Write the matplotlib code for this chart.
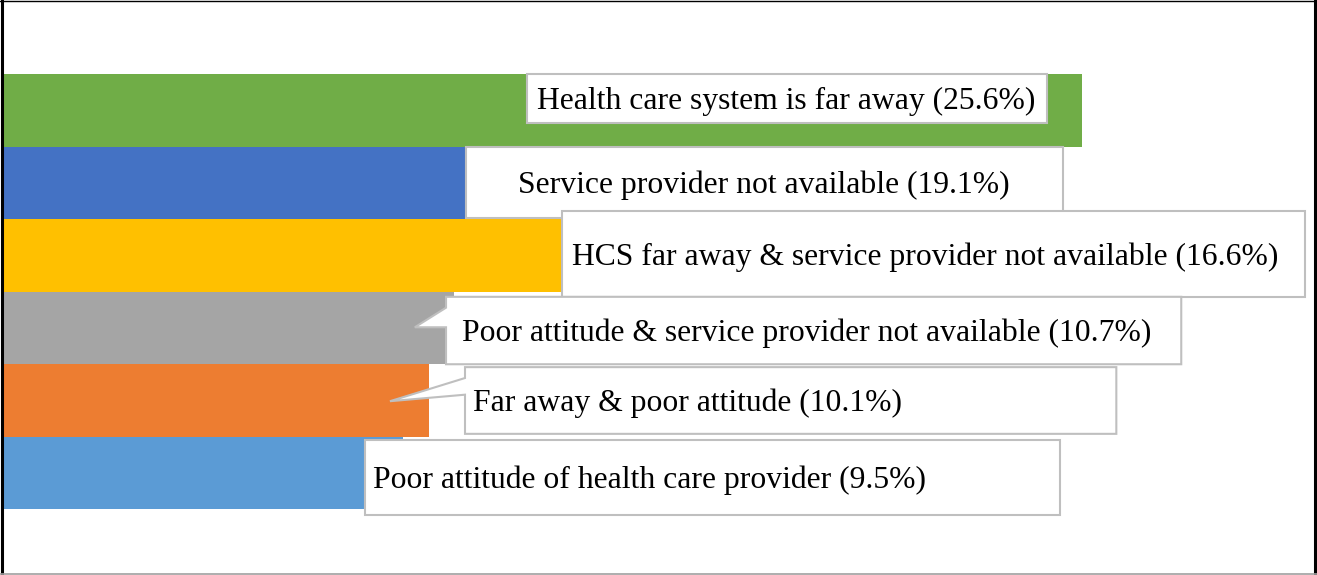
import matplotlib
matplotlib.use("Agg")
import matplotlib.pyplot as plt
from matplotlib.lines import Line2D
from matplotlib.patches import Polygon, Rectangle

# reasons, top bar first
reasons = ["Health care system is far away",
           "Service provider not available",
           "HCS far away & service provider not available",
           "Poor attitude & service provider not available",
           "Far away & poor attitude",
           "Poor attitude of health care provider"]
percent = [25.6, 19.1, 16.6, 10.7, 10.1, 9.5]
colors = ["#70AD47", "#4472C4", "#FFC000", "#A5A5A5", "#ED7D31", "#5B9BD5"]

# label boxes (x0, x1, y_top, y_bottom) in data units
boxes = [(12.43, 24.77, 5.50, 4.83),
         (10.98, 25.15, 4.50, 3.52),
         (13.26, 30.89, 3.61, 2.43),
         (10.51, 27.95, 2.43, 1.50),
         (10.96, 26.41, 1.46, 0.54),
         (8.59, 25.08, 0.455, -0.58)]
# left edge of each label text
text_x = [12.67, 12.22, 13.50, 10.89, 11.15, 8.78]
# pointer: (tip_x, tip_y, base_top_y, base_bottom_y)
pointers = {3: (9.77, 2.01, 2.28, 2.01),
            4: (9.18, 0.99, 1.31, 1.08)}

W, H = 1317, 575
fig = plt.figure(figsize=(W / 100, H / 100), dpi=100)
ax = fig.add_axes([0, 0, 1, 1])
n = len(reasons)
ypos = [n - 1 - i for i in range(n)]

ax.barh(ypos, percent, height=1.0, color=colors, left=0)
ax.set_xlim(-0.07, 31.17)
ax.set_ylim(-1.407, 6.524)
ax.axis("off")

edge = "#BFBFBF"
for i, (x0, x1, yt, yb) in enumerate(boxes):
    if i in pointers:
        tx, ty, bt, bb = pointers[i]
        pts = [(x0, yt), (x1, yt), (x1, yb), (x0, yb), (x0, bb), (tx, ty), (x0, bt)]
        ax.add_patch(Polygon(pts, closed=True, facecolor="white", edgecolor=edge,
                             lw=1.5, zorder=3))
    else:
        ax.add_patch(Rectangle((x0, yb), x1 - x0, yt - yb, facecolor="white",
                               edgecolor=edge, lw=1.5, zorder=3))
    ax.text(text_x[i], (yt + yb) / 2 - 0.04, "%s (%.1f%%)" % (reasons[i], percent[i]),
            ha="left", va="center", fontsize=22.8, family="Liberation Serif",
            color="black", zorder=4)

# outer frame: heavy black sides, thin black top, grey bottom
def frame_line(xs, ys, color, lw):
    fig.lines.append(Line2D([x / W for x in xs], [1 - y / H for y in ys],
                            transform=fig.transFigure, color=color, lw=lw))

frame_line([1.5, 1.5], [0, H], "black", 2.2)
frame_line([1315, 1315], [0, H], "black", 2.2)
frame_line([0, W], [0.5, 0.5], "black", 1.0)
frame_line([0, W], [574, 574], "#A0A0A0", 1.2)

fig.savefig("out.png", dpi=100, facecolor="white")
